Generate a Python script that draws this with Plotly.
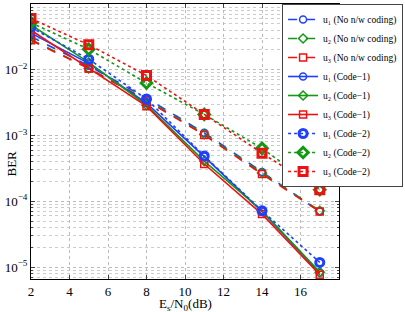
import plotly.graph_objects as go

snr_db = [2, 5, 8, 11, 14, 17]

nocode_u1 = [0.032, 0.0115, 0.0037, 0.0011, 0.00028, 0.00007]
nocode_u2 = [0.029, 0.0105, 0.0035, 0.00105, 0.00027, 0.000072]
nocode_u3 = [0.028, 0.0105, 0.0034, 0.00102, 0.00026, 0.00007]

code1_u1 = [0.036, 0.0125, 0.0031, 0.00048, 0.00007, 0.0000082]
code1_u2 = [0.048, 0.013, 0.0029, 0.00041, 0.000072, 0.0000084]
code1_u3 = [0.040, 0.0105, 0.0028, 0.00037, 0.000064, 0.0000077]

code2_u1 = [0.044, 0.0145, 0.0036, 0.00049, 0.000072, 0.0000118]
code2_u2 = [0.052, 0.0205, 0.0063, 0.0021, 0.00064, 0.00015]
code2_u3 = [0.060, 0.024, 0.0082, 0.0021, 0.00054, 0.00015]

labels = ["u\u2081 (No n/w coding)", "u\u2082 (No n/w coding)", "u\u2083 (No n/w coding)",
          "u\u2081 (Code\u22121)", "u\u2082 (Code\u22121)", "u\u2083 (Code\u22121)",
          "u\u2081 (Code\u22122)", "u\u2082 (Code\u22122)", "u\u2083 (Code\u22122)"]

x_ticks = [2, 4, 6, 8, 10, 12, 14, 16]
y_ticks = [1e-1, 1e-2, 1e-3, 1e-4, 1e-5]
y_ticktext = ["10<sup>\u22121</sup>", "10<sup>\u22122</sup>", "10<sup>\u22123</sup>",
              "10<sup>\u22124</sup>", "10<sup>\u22125</sup>"]
y_minor = [m * 10.0 ** e for e in range(-6, -1) for m in range(2, 10)]

blue, green, red = "#1f3fff", "#119911", "#ee1111"
colors = [blue, green, red]
symbols = ["circle-open", "diamond-open", "square-open"]
series = [nocode_u1, nocode_u2, nocode_u3, code1_u1, code1_u2, code1_u3, code2_u1, code2_u2, code2_u3]
dashes = ["dash", "solid", "dot"]

fig = go.Figure()
for i, ys in enumerate(series):
    grp = i // 3
    k = i % 3
    fig.add_trace(go.Scatter(
        x=snr_db, y=ys, name=labels[i], mode="lines+markers",
        line=dict(color=colors[k], width=1.6, dash=dashes[grp]),
        marker=dict(symbol=symbols[k], size=7 if grp < 2 else 8, color=colors[k],
                    line=dict(width=1.5 if grp < 2 else 3, color=colors[k])),
    ))

fig.update_layout(
    width=405, height=312,
    margin=dict(l=31, r=66, t=4, b=33, autoexpand=False),
    paper_bgcolor="white", plot_bgcolor="white",
    font=dict(family="Liberation Serif", size=13, color="black"),
    showlegend=True,
    legend=dict(x=1.208, y=1.0, xanchor="right", yanchor="top",
                bgcolor="white", bordercolor="#444444", borderwidth=1,
                font=dict(size=9.5), tracegroupgap=0, itemwidth=30,
                maxheight=300),
    xaxis=dict(range=[2, 18], tickvals=x_ticks, automargin=False,
               ticks="inside", ticklen=4, showline=True, linecolor="black", mirror="allticks",
               showgrid=True, gridcolor="#bbbbbb", griddash="dot", gridwidth=1,
               zeroline=False),
    yaxis=dict(type="log", range=[-5.18, -1], tickvals=y_ticks, ticktext=y_ticktext,
               automargin=False, ticks="inside", ticklen=4,
               showline=True, linecolor="black", mirror="allticks",
               showgrid=True, gridcolor="#bbbbbb", griddash="dot", gridwidth=1,
               minor=dict(tickmode="array", tickvals=y_minor, showgrid=True,
                          gridcolor="#cccccc", griddash="dot",
                          ticks="inside", ticklen=2),
               zeroline=False),
    annotations=[
        dict(text="E<sub>s</sub>/N<sub>0</sub>(dB)", xref="paper", yref="paper",
             x=0.5, y=0, yshift=-15, xanchor="center", yanchor="top",
             showarrow=False, font=dict(size=13)),
        dict(text="BER", xref="paper", yref="paper", textangle=-90,
             x=0, y=0.42, xshift=-20, xanchor="center", yanchor="middle",
             showarrow=False, font=dict(size=13)),
    ],
)

fig.write_html("out.html", config={"displayModeBar": False},
               post_script="document.body.style.margin='0px';")
